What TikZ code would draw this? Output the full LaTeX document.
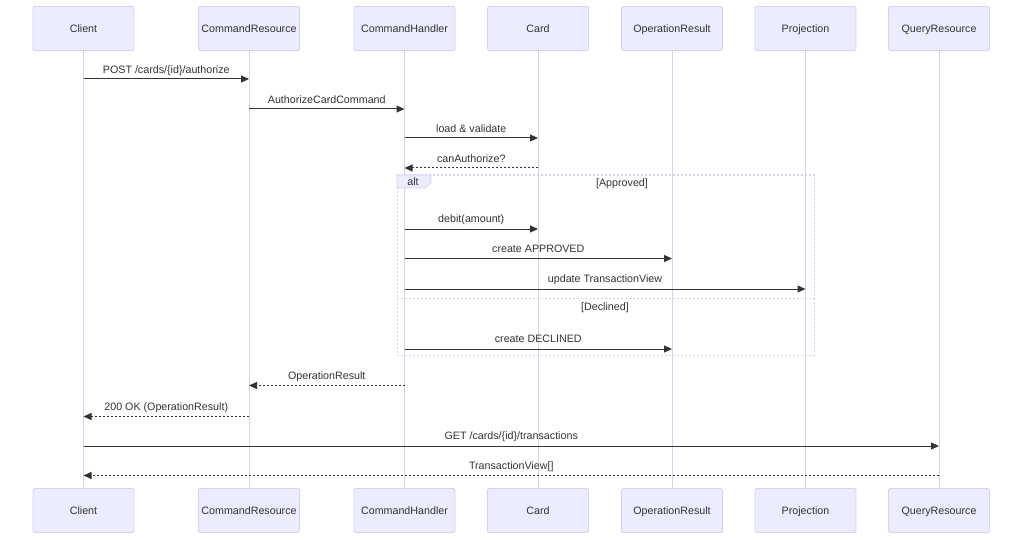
\documentclass[tikz,border=0pt]{standalone}
\usepackage{fontspec}
\setmainfont{Liberation Sans}
\usetikzlibrary{arrows.meta}
\definecolor{actfill}{HTML}{ECECFF}
\definecolor{actline}{HTML}{DACEF3}
\definecolor{txt}{HTML}{333333}
\tikzset{
  actor/.style={draw=actline, fill=actfill, rounded corners=1.5pt, line width=0.8pt,
    minimum width=101pt, minimum height=44pt, inner sep=0pt, text=txt,
    text height=8.7pt, text depth=0pt,
    font=\fontsize{10.7}{12.8}\selectfont},
  lifeline/.style={draw=actline, line width=1pt},
  msg/.style={draw=txt, line width=1pt, -{Triangle[length=8pt,width=7pt]}},
  ret/.style={msg, dash pattern=on 2pt off 2pt},
  lbl/.style={text=txt, font=\fontsize{10.7}{12.8}\selectfont, inner sep=0pt,
    text height=7.7pt, text depth=0pt},
  frame/.style={draw=actline, line width=1pt, dash pattern=on 2pt off 2pt},
}
\begin{document}
\begin{tikzpicture}[x=1pt,y=-1pt]
\useasboundingbox (0,0) rectangle (1024,540);
\fill[white] (0,0) rectangle (1024,540);
% participants top
\node[actor] (cT) at (83.5,28.5) {Client};
\node[actor] (rT) at (249,28.5) {CommandResource};
\node[actor] (hT) at (404.5,28.5) {CommandHandler};
\node[actor] (kT) at (538,28.5) {Card};
\node[actor] (oT) at (672,28.5) {OperationResult};
\node[actor] (pT) at (805.5,28.5) {Projection};
\node[actor] (qT) at (939,28.5) {QueryResource};
% participants bottom
\node[actor] (cB) at (83.5,510.5) {Client};
\node[actor] (rB) at (249,510.5) {CommandResource};
\node[actor] (hB) at (404.5,510.5) {CommandHandler};
\node[actor] (kB) at (538,510.5) {Card};
\node[actor] (oB) at (672,510.5) {OperationResult};
\node[actor] (pB) at (805.5,510.5) {Projection};
\node[actor] (qB) at (939,510.5) {QueryResource};
% lifelines
\foreach \a in {c,r,h,k,o,p,q}{
  \draw[lifeline] (\a T.south) -- (\a B.north);
}
% alt frame
\draw[frame] (397,175) rectangle (814,355);
\draw[frame] (397,298) -- (814,298);
\filldraw[draw=actline, fill=actfill, line width=0.8pt] (397,175) -- (431,175) -- (431,182.5) -- (425,188) -- (397,188) -- cycle;
\node[lbl] (alt) at (413,182) {alt};
\node[lbl] (appr) at (622,183) {[Approved]};
\node[lbl] (decl) at (605,307) {[Declined]};
% messages
\draw[msg] (cT |- 0,79) -- (rT |- 0,79) node[lbl, midway, yshift=9pt] {POST /cards/\{id\}/authorize};
\draw[msg] (rT |- 0,109) -- (hT |- 0,109) node[lbl, midway, yshift=9pt] {AuthorizeCardCommand};
\draw[msg] (hT |- 0,138) -- (kT |- 0,138) node[lbl, midway, yshift=9.5pt] {load \& validate};
\draw[ret] (kT |- 0,168) -- (hT |- 0,168) node[lbl, midway, yshift=9.5pt] {canAuthorize?};
\draw[msg] (hT |- 0,229) -- (kT |- 0,229) node[lbl, midway, yshift=10.5pt] {debit(amount)};
\draw[msg] (hT |- 0,258.5) -- (oT |- 0,258.5) node[lbl, midway, yshift=10pt] {create APPROVED};
\draw[msg] (hT |- 0,289) -- (pT |- 0,289) node[lbl, midway, yshift=10.5pt] {update TransactionView};
\draw[msg] (hT |- 0,349) -- (oT |- 0,349) node[lbl, midway, yshift=10pt] {create DECLINED};
\draw[ret] (hT |- 0,385.5) -- (rT |- 0,385.5) node[lbl, midway, yshift=10pt] {OperationResult};
\draw[ret] (rT |- 0,416.5) -- (cT |- 0,416.5) node[lbl, midway, yshift=10pt] {200 OK (OperationResult)};
\draw[msg] (cT |- 0,446) -- (qT |- 0,446) node[lbl, midway, yshift=10pt] {GET /cards/\{id\}/transactions};
\draw[ret] (qT |- 0,475.5) -- (cT |- 0,475.5) node[lbl, midway, yshift=10pt] {TransactionView[]};
\end{tikzpicture}
\end{document}
